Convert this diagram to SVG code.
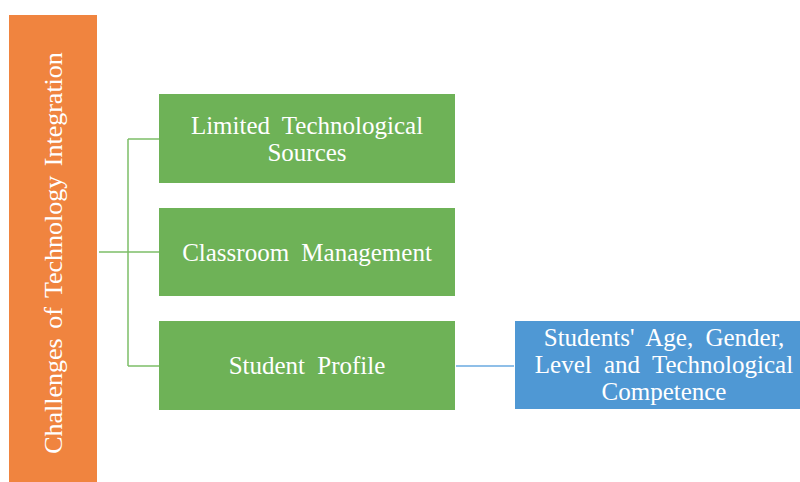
<svg xmlns="http://www.w3.org/2000/svg" width="800" height="482" viewBox="0 0 800 482">
<style>
text{font-family:"Liberation Serif","Times New Roman",serif;fill:#fff;text-anchor:middle;font-size:25px;word-spacing:6px}
.g{fill:#6EB257}
.c{fill:none;stroke-width:1.5}
</style>
<rect width="800" height="482" fill="#fff"/>
<g id="root"><rect x="9" y="15" width="88" height="467" fill="#F0843F"/>
<text transform="translate(62,253) rotate(-90)" style="font-size:26px;word-spacing:3px">Challenges of Technology Integration</text></g>
<g id="connectors">
<path class="c" stroke="#7DBE68" d="M99,252H159M128,139V366M128,139H159M128,366H159"/>
<path class="c" stroke="#6AAAE0" d="M456,366H514"/>
</g>
<g id="n1"><rect class="g" x="159" y="94" width="296" height="89"/>
<text x="307" y="134">Limited Technological</text><text x="307" y="161">Sources</text></g>
<g id="n2"><rect class="g" x="159" y="208" width="296" height="88"/>
<text x="307" y="261">Classroom Management</text></g>
<g id="n3"><rect class="g" x="159" y="321" width="296" height="89"/>
<text x="307" y="374">Student Profile</text></g>
<g id="n4"><rect x="515" y="321" width="300" height="88" fill="#4F98D4"/>
<text x="664" y="346">Students' Age, Gender,</text><text x="664" y="373">Level and Technological</text><text x="664" y="400">Competence</text></g>
</svg>
